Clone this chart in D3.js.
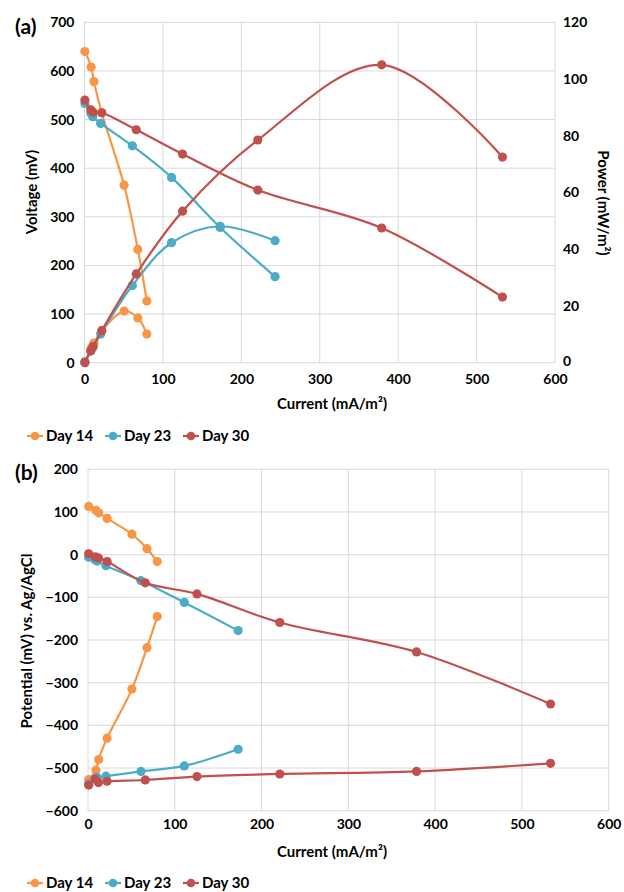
<!DOCTYPE html>
<html>
<head>
<meta charset="utf-8">
<script src="https://cdn.jsdelivr.net/npm/d3@7"></script>
<style>
  html, body { margin: 0; padding: 0; background: #fff; }
  svg { display: block; font-family: Lato, "Open Sans", sans-serif; }
</style>
</head>
<body>
<svg id="chart" width="624" height="892"></svg>
<script>
// ---------- Data ----------
const seriesNames = ["Day 14", "Day 23", "Day 30"];
const xTicks = [0, 100, 200, 300, 400, 500, 600];
const voltageTicks = [0, 100, 200, 300, 400, 500, 600, 700];
const powerTicks = [0, 20, 40, 60, 80, 100, 120];
const potentialTicks = [-600, -500, -400, -300, -200, -100, 0, 100, 200];

// Panel (a): polarization & power curves
const d14CurrentA = [0.5, 8.5, 12, 22, 50.5, 68, 79.5];
const d14Voltage  = [640, 608, 578, 514, 365, 233, 127];
const d14Power    = [0.3, 5.2, 6.9, 11.3, 18.2, 15.8, 10.1];

const d23CurrentA = [0.5, 8, 10.5, 20.6, 61, 111, 173, 243];
const d23Voltage  = [533, 513, 506, 492, 446, 381, 278, 177];
const d23Power    = [0.3, 4.1, 5.3, 10.1, 27.2, 42.3, 48.1, 43];

const d30CurrentA = [0.5, 8, 11, 22, 66, 125, 221, 379, 533];
const d30Voltage  = [540, 520, 515, 514, 479, 429, 355, 277, 135];
const d30Power    = [0, 4.2, 5.7, 11.3, 31.3, 53.4, 78.5, 105, 72.5];

// Panel (b): electrode potentials
const d14CurrentB = [0.8, 9.2, 12.3, 22, 50.6, 68, 79.8];
const d14Anode    = [113, 104, 98, 85, 48, 14, -16];
const d14Cathode  = [-527, -505, -480, -430, -315, -218, -145];

const d23CurrentB = [0.8, 8, 10.5, 20.7, 61, 111, 173];
const d23Anode    = [-6, -12, -15, -26, -61, -112, -178];
const d23Cathode  = [-537, -524, -522, -519, -508, -495, -456];

const d30CurrentB = [0.8, 8.4, 12, 22, 66, 125.6, 221, 378.6, 533];
const d30Anode    = [2, -5, -8, -16, -66, -92, -159, -228, -350];
const d30Cathode  = [-540, -526, -534, -531, -528, -520, -514, -508, -489];

const colors = ["#F79646", "#4BACC6", "#C0504D"];

// ---------- Setup ----------
const svg = d3.select("#chart");
const gridColor = "#d9d9d9";
const zip = (xs, ys) => xs.map((x, i) => [x, ys[i]]);
const curve = d3.curveCatmullRom.alpha(0.5);

function drawGrid(g, x, y, xT, yT) {
  g.append("g").selectAll("line").data(xT).join("line")
    .attr("x1", d => x(d)).attr("x2", d => x(d))
    .attr("y1", y.range()[0]).attr("y2", y.range()[1])
    .attr("stroke", gridColor).attr("stroke-width", 1);
  g.append("g").selectAll("line").data(yT).join("line")
    .attr("y1", d => y(d)).attr("y2", d => y(d))
    .attr("x1", x.range()[0]).attr("x2", x.range()[1])
    .attr("stroke", gridColor).attr("stroke-width", 1);
}

function drawSeries(g, pts, x, y, color) {
  const line = d3.line().x(d => x(d[0])).y(d => y(d[1])).curve(curve);
  g.append("path").attr("d", line(pts)).attr("fill", "none")
    .attr("stroke", color).attr("stroke-width", 2.2);
  g.append("g").selectAll("circle").data(pts).join("circle")
    .attr("cx", d => x(d[0])).attr("cy", d => y(d[1])).attr("r", 4.6)
    .attr("fill", color);
}

function styleAxis(ax) {
  ax.select(".domain").remove();
  ax.selectAll(".tick line").remove();
  ax.selectAll("text").attr("font-family", "Lato, sans-serif")
    .attr("font-weight", 700).attr("font-size", 14).attr("fill", "#000");
}

function legend(yc) {
  const lg = svg.append("g");
  const xs = [27, 105, 183];
  seriesNames.forEach((n, i) => {
    lg.append("line").attr("x1", xs[i]).attr("x2", xs[i] + 16)
      .attr("y1", yc).attr("y2", yc).attr("stroke", colors[i]).attr("stroke-width", 2.2);
    lg.append("circle").attr("cx", xs[i] + 8).attr("cy", yc).attr("r", 4.3).attr("fill", colors[i]);
    lg.append("text").attr("x", xs[i] + 19).attr("y", yc).attr("dy", "0.36em")
      .attr("font-size", 15).attr("font-weight", 700).text(n);
  });
}

// ---------- Panel (a) ----------
{
  const x = d3.scaleLinear().domain([0, 600]).range([84.5, 555]);
  const yL = d3.scaleLinear().domain([0, 700]).range([362.7, 22.3]);
  const yR = d3.scaleLinear().domain([0, 120]).range([362.7, 22.3]);
  const g = svg.append("g");
  drawGrid(g, x, yL, xTicks, voltageTicks);

  const axL = g.append("g").attr("transform", `translate(${x.range()[0]},0)`)
    .call(d3.axisLeft(yL).tickValues(voltageTicks).tickSize(0).tickPadding(10));
  styleAxis(axL);
  const axR = g.append("g").attr("transform", `translate(${x.range()[1]},0)`)
    .call(d3.axisRight(yR).tickValues(powerTicks).tickSize(0).tickPadding(8));
  styleAxis(axR);
  axR.selectAll(".tick text").filter(d => d === 0).attr("dy", "0.2em");
  const axB = g.append("g").attr("transform", `translate(0,${yL.range()[0]})`)
    .call(d3.axisBottom(x).tickValues(xTicks).tickSize(0).tickPadding(11));
  styleAxis(axB);

  const sets = [
    [d14CurrentA, d14Voltage, d14Power],
    [d23CurrentA, d23Voltage, d23Power],
    [d30CurrentA, d30Voltage, d30Power]
  ];
  sets.forEach((s, i) => {
    drawSeries(g, zip(s[0], s[1]), x, yL, colors[i]);
    drawSeries(g, zip(s[0], s[2]), x, yR, colors[i]);
  });

  svg.append("text").attr("x", 15).attr("y", 34).attr("font-size", 21)
    .attr("font-weight", 700).text("(a)");
  svg.append("text").attr("transform", "translate(37,192) rotate(-90)")
    .attr("text-anchor", "middle").attr("font-size", 15).attr("font-weight", 700)
    .text("Voltage (mV)");
  svg.append("text").attr("transform", "translate(598,203) rotate(90)")
    .attr("text-anchor", "middle").attr("font-size", 15).attr("font-weight", 700)
    .text("Power (mW/m²)");
  svg.append("text").attr("x", 332).attr("y", 404).attr("dy", "0.36em")
    .attr("text-anchor", "middle").attr("font-size", 15).attr("font-weight", 700)
    .text("Current (mA/m²)");
  legend(436);
}

// ---------- Panel (b) ----------
{
  const x = d3.scaleLinear().domain([0, 600]).range([88, 608.7]);
  const y = d3.scaleLinear().domain([-600, 200]).range([810.7, 469.3]);
  const g = svg.append("g");
  drawGrid(g, x, y, xTicks, potentialTicks);

  const axL = g.append("g").attr("transform", `translate(${x.range()[0]},0)`)
    .call(d3.axisLeft(y).tickValues(potentialTicks).tickSize(0).tickPadding(10));
  styleAxis(axL);
  const axB = g.append("g").attr("transform", `translate(0,${y.range()[0]})`)
    .call(d3.axisBottom(x).tickValues(xTicks).tickSize(0).tickPadding(8));
  styleAxis(axB);

  const sets = [
    [d14CurrentB, d14Anode, d14Cathode],
    [d23CurrentB, d23Anode, d23Cathode],
    [d30CurrentB, d30Anode, d30Cathode]
  ];
  sets.forEach((s, i) => {
    drawSeries(g, zip(s[0], s[1]), x, y, colors[i]);
    drawSeries(g, zip(s[0], s[2]), x, y, colors[i]);
  });

  svg.append("text").attr("x", 15).attr("y", 480).attr("font-size", 21)
    .attr("font-weight", 700).text("(b)");
  svg.append("text").attr("transform", "translate(32,641) rotate(-90)")
    .attr("text-anchor", "middle").attr("font-size", 15).attr("font-weight", 700)
    .text("Potential (mV) vs. Ag/AgCl");
  svg.append("text").attr("x", 332).attr("y", 852).attr("dy", "0.36em")
    .attr("text-anchor", "middle").attr("font-size", 15).attr("font-weight", 700)
    .text("Current (mA/m²)");
  legend(883);
}
</script>
</body>
</html>
